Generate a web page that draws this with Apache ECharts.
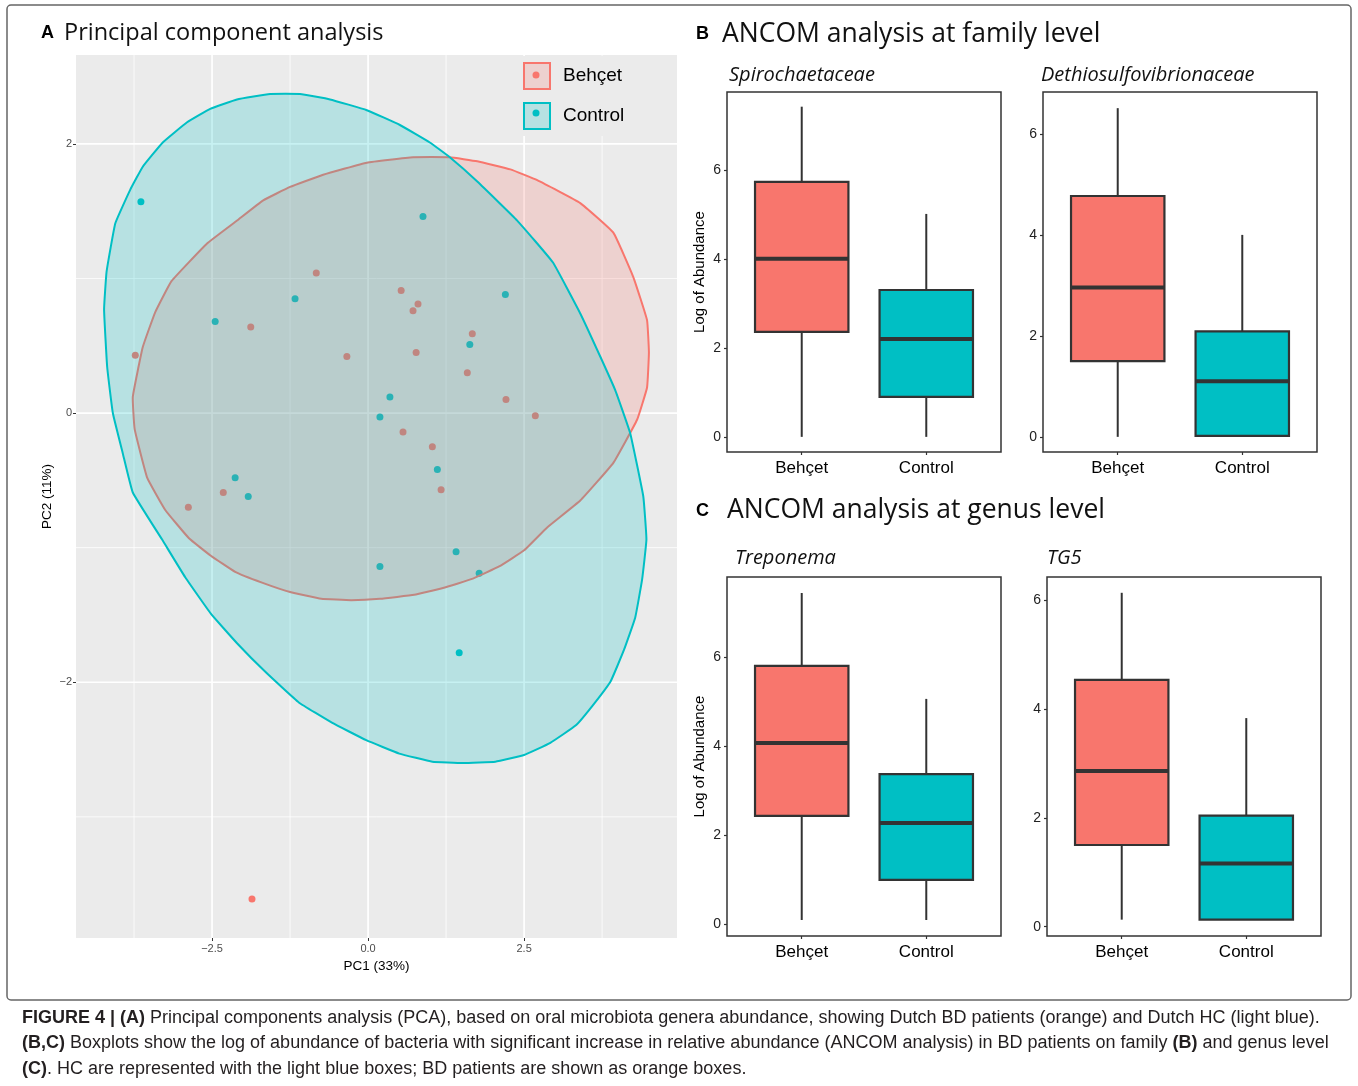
<!DOCTYPE html>
<html>
<head>
<meta charset="utf-8">
<script src="https://cdn.jsdelivr.net/npm/echarts@6/dist/echarts.min.js"></script>
<style>
  html, body { margin: 0; padding: 0; background: #fff; }
  #chart { width: 1358px; height: 1086px; }
</style>
</head>
<body>
<div id="chart"></div>
<script>
// Panel A - PCA scores (PC1, PC2)
const behcetPoints = [
  [-0.83, 1.04], [0.53, 0.91], [0.80, 0.81], [0.72, 0.76], [-1.88, 0.64], [1.67, 0.59],
  [-3.73, 0.43], [-0.34, 0.42], [0.77, 0.45], [1.59, 0.30], [2.21, 0.10], [2.68, -0.02],
  [0.56, -0.14], [1.03, -0.25], [1.17, -0.57], [-2.32, -0.59], [-2.88, -0.70], [-1.86, -3.61]
];
const controlPoints = [
  [-3.64, 1.57], [0.88, 1.46], [2.20, 0.88], [-1.17, 0.85], [-2.45, 0.68], [1.63, 0.51],
  [0.35, 0.12], [0.19, -0.03], [1.11, -0.42], [-2.13, -0.48], [-1.92, -0.62], [1.41, -1.03],
  [0.19, -1.14], [1.78, -1.19], [1.46, -1.78]
];
// ellipse outlines
const behcetEllipse = [
  [0.72, 1.90], [1.31, 1.90], [1.75, 1.87], [2.28, 1.81], [2.71, 1.73], [3.40, 1.56], [3.93, 1.34],
  [4.25, 1.01], [4.47, 0.69], [4.50, 0.45], [4.47, 0.19], [4.31, -0.05], [3.93, -0.37], [3.40, -0.65],
  [2.87, -0.85], [2.50, -1.02], [2.10, -1.14], [1.68, -1.23], [1.20, -1.30], [0.74, -1.35], [0.19, -1.38],
  [-0.27, -1.39], [-0.75, -1.38], [-1.25, -1.33], [-1.70, -1.26], [-2.13, -1.18], [-2.52, -1.06],
  [-2.87, -0.93], [-3.25, -0.72], [-3.54, -0.48], [-3.74, -0.12], [-3.77, 0.12], [-3.61, 0.49],
  [-3.41, 0.75], [-3.15, 0.98], [-2.58, 1.26], [-2.10, 1.43], [-1.68, 1.58], [-1.25, 1.68],
  [-0.72, 1.77], [-0.02, 1.86]
];
const controlEllipse = [
  [-1.57, 2.37], [-1.09, 2.37], [-0.61, 2.33], [-0.02, 2.25], [0.51, 2.14], [0.99, 2.01], [1.31, 1.90],
  [1.75, 1.72], [2.39, 1.43], [2.96, 1.12], [3.40, 0.74], [3.72, 0.42], [3.96, 0.17], [4.20, -0.15],
  [4.41, -0.62], [4.46, -0.94], [4.39, -1.24], [4.28, -1.52], [4.10, -1.76], [3.89, -1.99], [3.62, -2.16],
  [3.33, -2.32], [2.92, -2.45], [2.50, -2.54], [2.04, -2.59], [1.52, -2.60], [1.03, -2.59], [0.50, -2.53],
  [-0.03, -2.43], [-0.58, -2.30], [-1.11, -2.15], [-1.63, -1.93], [-2.10, -1.71], [-2.52, -1.49],
  [-2.93, -1.22], [-3.30, -0.94], [-3.77, -0.59], [-3.93, -0.30], [-4.09, 0.00], [-4.18, 0.34],
  [-4.23, 0.77], [-4.19, 1.05], [-4.05, 1.41], [-3.81, 1.66], [-3.61, 1.83], [-3.29, 2.01],
  [-2.90, 2.16], [-2.53, 2.26], [-2.10, 2.33]
];
const pcaXTicks = [-2.5, 0, 2.5];
const pcaXMinor = [-3.75, -1.25, 1.25, 3.75];
const pcaYTicks = [-2, 0, 2];
const pcaYMinor = [-3, -1, 1];

// Panels B, C - [lower whisker, Q1, median, Q3, upper whisker]
const categories = ['Behçet', 'Control'];
const spiroStats = [[0, 2.36, 4.00, 5.73, 7.42], [0, 0.90, 2.20, 3.30, 5.01]];
const dethioStats = [[0, 1.50, 2.96, 4.77, 6.51], [0, 0.02, 1.10, 2.09, 4.00]];
const treponemaStats = [[0.09, 2.43, 4.07, 5.80, 7.44], [0.09, 0.99, 2.27, 3.37, 5.06]];
const tg5Stats = [[0.13, 1.50, 2.86, 4.53, 6.13], [0.13, 0.13, 1.16, 2.04, 3.83]];
const boxTicks = [0, 2, 4, 6];

const colors = ['#F8766D', '#00BFC4'];
const fills = ['rgba(248,118,109,0.22)', 'rgba(0,191,196,0.22)'];
const ARIAL = "'Liberation Sans', Arial, sans-serif";
const MYRIAD = "'Open Sans', 'Noto Sans', sans-serif";

const minus = (v, d) => (v < 0 ? '\u2212' + Math.abs(v).toFixed(d) : v.toFixed(d));

// white grid lines on the grey panel
function gridLines(vertical, major, minor) {
  const data = major.map(v => [v, 1]).concat(minor.map(v => [v, 0]));
  return {
    type: 'custom', xAxisIndex: 0, yAxisIndex: 0, z: 1, silent: true,
    data: data.map(d => (vertical ? [d[0], 0, d[1]] : [0, d[0], d[1]])),
    renderItem: (params, api) => {
      const cs = params.coordSys;
      const p = api.coord([api.value(0), api.value(1)]);
      const shape = vertical
        ? { x1: p[0], y1: cs.y, x2: p[0], y2: cs.y + cs.height }
        : { x1: cs.x, y1: p[1], x2: cs.x + cs.width, y2: p[1] };
      return { type: 'line', shape, style: { stroke: '#fff', lineWidth: api.value(2) ? 1.7 : 0.8 } };
    }
  };
}

function ellipse(name, pts, i, z) {
  return {
    name, type: 'custom', xAxisIndex: 0, yAxisIndex: 0, z, silent: true,
    data: pts,
    renderItem: (params, api) => {
      if (params.dataIndex !== 0) return null;
      return {
        type: 'polygon',
        shape: { points: pts.map(p => api.coord(p)), smooth: 0.1 },
        style: { fill: fills[i], stroke: colors[i], lineWidth: 2, lineJoin: 'round' }
      };
    }
  };
}

function boxSeries(idx, stats) {
  return {
    type: 'custom', xAxisIndex: idx, yAxisIndex: idx, silent: true,
    data: stats.map((s, i) => [i + 1].concat(s)),
    encode: { x: 0, y: [1, 2, 3, 4, 5] },
    renderItem: (params, api) => {
      const x = api.value(0);
      const pt = k => api.coord([x, api.value(k)]);
      const lo = pt(1), q1 = pt(2), md = pt(3), q3 = pt(4), hi = pt(5);
      const half = api.size([0.75, 0])[0] / 2;
      const stroke = '#333';
      return {
        type: 'group',
        children: [
          { type: 'line', shape: { x1: lo[0], y1: lo[1], x2: q1[0], y2: q1[1] }, style: { stroke, lineWidth: 2 } },
          { type: 'line', shape: { x1: q3[0], y1: q3[1], x2: hi[0], y2: hi[1] }, style: { stroke, lineWidth: 2 } },
          { type: 'rect', shape: { x: q3[0] - half, y: q3[1], width: half * 2, height: q1[1] - q3[1] },
            style: { fill: colors[params.dataIndex], stroke, lineWidth: 2.2 } },
          { type: 'line', shape: { x1: md[0] - half, y1: md[1], x2: md[0] + half, y2: md[1] }, style: { stroke, lineWidth: 4 } }
        ]
      };
    }
  };
}

const boxPanels = [
  { stats: spiroStats, left: 727, top: 92, h: 360, min: -0.34, max: 7.75, yName: true },
  { stats: dethioStats, left: 1043, top: 92, h: 360, min: -0.30, max: 6.83, yName: false },
  { stats: treponemaStats, left: 727, top: 577, h: 359, min: -0.27, max: 7.80, yName: true },
  { stats: tg5Stats, left: 1047, top: 577, h: 359, min: -0.17, max: 6.42, yName: false }
];

const grids = [{ left: 76, top: 55, width: 601, height: 883, show: true, backgroundColor: '#EBEBEB', borderWidth: 0, outerBoundsMode: 'none' }];
const xAxes = [{
  type: 'value', gridIndex: 0, min: -4.68, max: 4.95,
  name: 'PC1 (33%)', nameLocation: 'middle', nameGap: 21,
  nameTextStyle: { fontFamily: ARIAL, fontSize: 13.5, color: '#000' },
  axisLine: { show: false, onZero: false }, splitLine: { show: false },
  axisTick: { show: true, length: 3, customValues: pcaXTicks, lineStyle: { color: '#333' } },
  axisLabel: { customValues: pcaXTicks, formatter: v => minus(v, 1), margin: 5, fontFamily: ARIAL, fontSize: 11, color: '#4D4D4D' }
}];
const yAxes = [{
  type: 'value', gridIndex: 0, min: -3.90, max: 2.66,
  name: 'PC2 (11%)', nameLocation: 'middle', nameGap: 22,
  nameTextStyle: { fontFamily: ARIAL, fontSize: 13.5, color: '#000' },
  axisLine: { show: false, onZero: false }, splitLine: { show: false },
  axisTick: { show: true, length: 3, customValues: pcaYTicks, lineStyle: { color: '#333' } },
  axisLabel: { customValues: pcaYTicks, formatter: v => minus(v, 0), margin: 4, fontFamily: ARIAL, fontSize: 11, color: '#4D4D4D' }
}];

boxPanels.forEach((p, k) => {
  const idx = k + 1;
  grids.push({ left: p.left, top: p.top, width: 274, height: p.h, show: true, backgroundColor: '#fff', borderColor: '#333', borderWidth: 1.5, outerBoundsMode: 'none' });
  xAxes.push({
    type: 'value', gridIndex: idx, min: 0.4, max: 2.6,
    axisLine: { show: false, onZero: false }, splitLine: { show: false },
    axisTick: { show: true, length: 3, customValues: [1, 2], lineStyle: { color: '#333', width: 1.2 } },
    axisLabel: { customValues: [1, 2], formatter: v => categories[Math.round(v) - 1], margin: 8, fontFamily: ARIAL, fontSize: 17, color: '#000' }
  });
  yAxes.push({
    type: 'value', gridIndex: idx, min: p.min, max: p.max,
    name: p.yName ? 'Log of Abundance' : '', nameLocation: 'middle', nameGap: 20,
    nameTextStyle: { fontFamily: ARIAL, fontSize: 15, color: '#000' },
    axisLine: { show: false, onZero: false }, splitLine: { show: false },
    axisTick: { show: true, length: 3, customValues: boxTicks, lineStyle: { color: '#333', width: 1.2 } },
    axisLabel: { customValues: boxTicks, margin: 6, fontFamily: ARIAL, fontSize: 14, color: '#222' }
  });
});

const letter = (t, left, top) => ({ text: t, left, top, padding: 0, textStyle: { fontFamily: ARIAL, fontWeight: 'bold', fontSize: 18, color: '#000' } });
const heading = (t, left, top, size) => ({ text: t, left, top, padding: 0, textStyle: { fontFamily: MYRIAD, fontWeight: 'normal', fontSize: size, color: '#111' } });
const taxon = (t, left, top) => ({ text: t, left, top, padding: 0, textStyle: { fontFamily: MYRIAD, fontStyle: 'italic', fontWeight: 'normal', fontSize: 20, color: '#111' } });
const CAPFONT = "'Liberation Sans', Arial, sans-serif";
const capRich = { b: { fontFamily: CAPFONT, fontWeight: 'bold', fontSize: 18, color: '#231F20' } };
const caption = (t, top) => ({
  text: t, left: 22, top, padding: 0,
  textStyle: { fontFamily: CAPFONT, fontWeight: 'normal', fontSize: 18, color: '#231F20', rich: capRich }
});

const option = {
  animation: false,
  backgroundColor: '#fff',
  title: [
    letter('A', 41, 24), heading('Principal component analysis', 64, 21, 23.5),
    letter('B', 696, 25), heading('ANCOM analysis at family level', 722, 21, 26.5),
    letter('C', 696, 502), heading('ANCOM analysis at genus level', 727, 497, 26.5),
    taxon('Spirochaetaceae', 729, 65), taxon('Dethiosulfovibrionaceae', 1041, 65),
    taxon('Treponema', 735, 548), taxon('TG5', 1047, 548),
    caption('{b|FIGURE 4 | (A)} Principal components analysis (PCA), based on oral microbiota genera abundance, showing Dutch BD patients (orange) and Dutch HC (light blue).', 1009),
    caption('{b|(B,C)} Boxplots show the log of abundance of bacteria with significant increase in relative abundance (ANCOM analysis) in BD patients on family {b|(B)} and genus level', 1034),
    caption('{b|(C)}. HC are represented with the light blue boxes; BD patients are shown as orange boxes.', 1060)
  ],
  legend: [
    {
      left: 517, top: 56, padding: 6, orient: 'vertical', itemGap: 12, itemWidth: 26, itemHeight: 26,
      backgroundColor: '#EBEBEB', selectedMode: false,
      textStyle: { fontFamily: ARIAL, fontSize: 19, color: '#000', padding: [0, 0, 0, 8] },
      data: categories.map((c, i) => ({ name: c, icon: 'rect', itemStyle: { color: fills[i], borderColor: colors[i], borderWidth: 2 } }))
    },
    {
      left: 526.5, top: 56, padding: 6, orient: 'vertical', itemGap: 12, itemWidth: 7, itemHeight: 7, selectedMode: false,
      textStyle: { fontFamily: ARIAL, fontSize: 19, lineHeight: 26, color: 'rgba(0,0,0,0)' },
      data: categories.map((c, i) => ({ name: c, icon: 'circle', itemStyle: { color: colors[i], borderWidth: 0 } }))
    }
  ],
  grid: grids,
  xAxis: xAxes,
  yAxis: yAxes,
  graphic: [{
    type: 'rect', silent: true, z: -1,
    shape: { x: 7, y: 5, width: 1344, height: 995, r: 4 },
    style: { fill: 'none', stroke: '#666', lineWidth: 1.5 }
  }],
  series: [
    gridLines(true, pcaXTicks, pcaXMinor),
    gridLines(false, pcaYTicks, pcaYMinor),
    { name: 'Behçet', type: 'scatter', xAxisIndex: 0, yAxisIndex: 0, z: 2, symbolSize: 7, data: behcetPoints, itemStyle: { color: colors[0], opacity: 1 } },
    { name: 'Control', type: 'scatter', xAxisIndex: 0, yAxisIndex: 0, z: 2, symbolSize: 7, data: controlPoints, itemStyle: { color: colors[1], opacity: 1 } },
    ellipse('Behçet', behcetEllipse, 0, 3),
    ellipse('Control', controlEllipse, 1, 4),
    boxSeries(1, spiroStats),
    boxSeries(2, dethioStats),
    boxSeries(3, treponemaStats),
    boxSeries(4, tg5Stats)
  ]
};

const chart = echarts.init(document.getElementById('chart'), null, { renderer: 'canvas' });
chart.setOption(option);
</script>
</body>
</html>
